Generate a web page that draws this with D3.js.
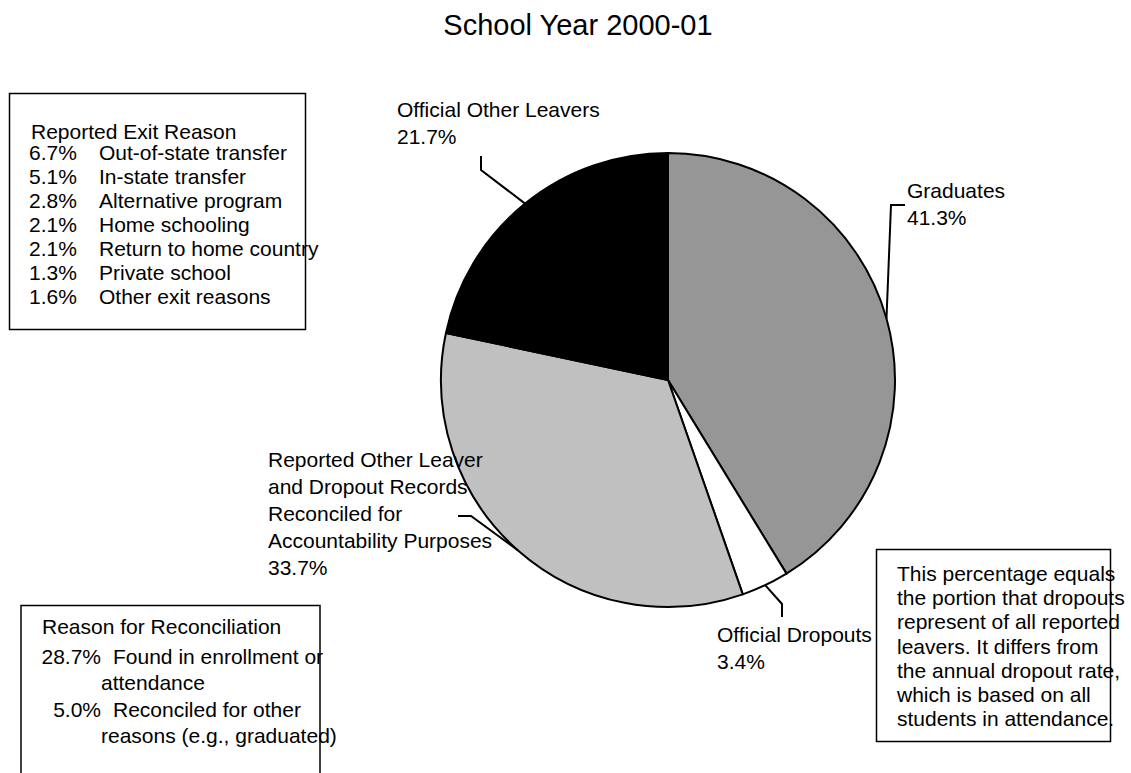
<!DOCTYPE html>
<html>
<head>
<meta charset="utf-8">
<script src="https://cdn.jsdelivr.net/npm/d3@7"></script>
<style>
  html, body { margin: 0; padding: 0; background: #fff; }
  svg { display: block; font-family: "Liberation Sans", Arial, sans-serif; }
  text { fill: #000; }
</style>
</head>
<body>
<svg id="chart" width="1131" height="773"></svg>
<script>
// Leaver categories and their share of all reported leavers (%)
const categories = [
  "Graduates",
  "Official Dropouts",
  "Reported Other Leaver and Dropout Records Reconciled for Accountability Purposes",
  "Official Other Leavers"
];
const shares = [41.3, 3.4, 33.7, 21.7];
const labelLines = [
  ["Graduates"],
  ["Official Dropouts"],
  ["Reported Other Leaver", "and Dropout Records", "Reconciled for", "Accountability Purposes"],
  ["Official Other Leavers"]
];

// Breakdown of official other leavers
const exitReasons = ["Out-of-state transfer", "In-state transfer", "Alternative program",
  "Home schooling", "Return to home country", "Private school", "Other exit reasons"];
const exitShares = [6.7, 5.1, 2.8, 2.1, 2.1, 1.3, 1.6];

// Breakdown of reconciled records
const reconcileReasons = [["Found in enrollment or", "attendance"],
  ["Reconciled for other", "reasons (e.g., graduated)"]];
const reconcileShares = [28.7, 5.0];

const noteLines = ["This percentage equals", "the portion that dropouts",
  "represent of all reported", "leavers. It differs from",
  "the annual dropout rate,", "which is based on all", "students in attendance."];

const title = "School Year 2000-01";

// ---- layout ----
const svg = d3.select("#chart");
const cx = 668, cy = 380, R = 227;
const fills = ["#969696", "#ffffff", "#c0c0c0", "#000000"];
const fs = 21, lineH = 27;

svg.append("text")
  .attr("x", 578).attr("y", 35)
  .attr("text-anchor", "middle")
  .attr("font-size", 29)
  .text(title);

const data = categories.map((c, i) => ({ name: c, share: shares[i], lines: labelLines[i], fill: fills[i] }));
const pie = d3.pie().sort(null).value(d => d.share).startAngle(0).endAngle(2 * Math.PI);
const arcs = pie(data);
const arc = d3.arc().innerRadius(0).outerRadius(R);
const edge = d3.arc().innerRadius(R).outerRadius(R);

const g = svg.append("g").attr("transform", `translate(${cx},${cy})`);
g.selectAll("path.slice")
  .data(arcs)
  .join("path")
  .attr("class", "slice")
  .attr("d", arc)
  .attr("fill", d => d.data.fill)
  .attr("stroke", "#000")
  .attr("stroke-width", 2)
  .attr("stroke-linejoin", "round");

// label placement per slice: text anchor point and leader bend/end points (page coords)
const labelPos = [
  { x: 907, y: 198, bend: [891, 205], end: [905, 205] },
  { x: 717, y: 642, bend: [782, 604], end: [782, 617] },
  { x: 268, y: 467, bend: [471, 516], end: [458, 516] },
  { x: 397, y: 117, bend: [481, 170], end: [481, 156] }
];

arcs.forEach((a, i) => {
  const p = labelPos[i];
  const e = edge.centroid(a);
  svg.append("polyline")
    .attr("points", [[cx + e[0], cy + e[1]], p.bend, p.end].map(q => q.join(",")).join(" "))
    .attr("fill", "none")
    .attr("stroke", "#000")
    .attr("stroke-width", 2);
  const t = svg.append("text").attr("font-size", fs);
  const lines = a.data.lines.concat([d3.format(".1f")(a.data.share) + "%"]);
  lines.forEach((ln, j) => {
    t.append("tspan").attr("x", p.x).attr("y", p.y + j * lineH).text(ln);
  });
});

// exit reason box
svg.append("rect")
  .attr("x", 9.5).attr("y", 93.5).attr("width", 296).attr("height", 236)
  .attr("fill", "none").attr("stroke", "#000").attr("stroke-width", 1.5);
svg.append("text").attr("x", 31).attr("y", 139).attr("font-size", fs).text("Reported Exit Reason");
exitReasons.forEach((r, i) => {
  const y = 160 + i * 24;
  svg.append("text").attr("x", 29).attr("y", y).attr("font-size", fs)
    .text(d3.format(".1f")(exitShares[i]) + "%");
  svg.append("text").attr("x", 99).attr("y", y).attr("font-size", fs).text(r);
});

// reconciliation box (runs past the lower edge)
svg.append("path")
  .attr("d", "M21,790 L21,605.5 L320,605.5 L320,790")
  .attr("fill", "none").attr("stroke", "#000").attr("stroke-width", 1.5);
svg.append("text").attr("x", 42).attr("y", 634).attr("font-size", fs).text("Reason for Reconciliation");
const recY = [664, 717];
reconcileReasons.forEach((r, i) => {
  svg.append("text").attr("x", 101).attr("y", recY[i]).attr("font-size", fs)
    .attr("text-anchor", "end")
    .text(d3.format(".1f")(reconcileShares[i]) + "%");
  svg.append("text").attr("x", 113).attr("y", recY[i]).attr("font-size", fs).text(r[0]);
  svg.append("text").attr("x", 101).attr("y", recY[i] + 26).attr("font-size", fs).text(r[1]);
});

// note box
svg.append("rect")
  .attr("x", 876.5).attr("y", 549.5).attr("width", 234).attr("height", 192)
  .attr("fill", "none").attr("stroke", "#000").attr("stroke-width", 1.5);
noteLines.forEach((ln, i) => {
  svg.append("text").attr("x", 897).attr("y", 581 + i * 24.2).attr("font-size", fs).text(ln);
});
</script>
</body>
</html>
